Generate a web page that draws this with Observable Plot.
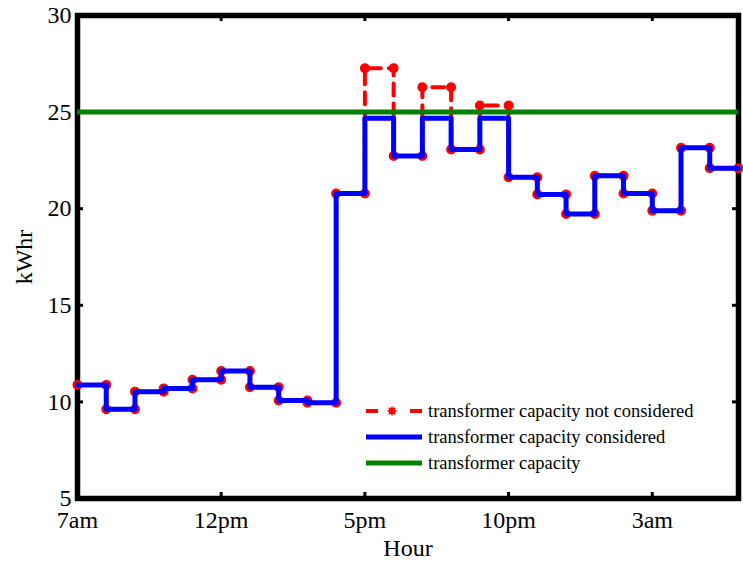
<!DOCTYPE html>
<html>
<head>
<meta charset="utf-8">
<script src="https://cdn.jsdelivr.net/npm/d3@7"></script>
<script src="https://cdn.jsdelivr.net/npm/@observablehq/plot@0.6"></script>
<style>
  html, body { margin: 0; padding: 0; background: #fff; }
  #wrap { position: relative; width: 743px; height: 562px; font-family: "Liberation Serif", "DejaVu Serif", serif; }
  #wrap svg text { font-family: "Liberation Serif", "DejaVu Serif", serif; }
  #legend { position: absolute; left: 366px; top: 398px; font-size: 18.5px; color: #000; }
  .row { display: flex; align-items: center; height: 26px; }
  .row svg { flex: none; }
  .row span { margin-left: 6px; white-space: nowrap; line-height: 26px; }
</style>
</head>
<body>
<div id="wrap"></div>
<script>
// ---- data ----
const hourTicks = [0, 5, 10, 15, 20];
const hourLabels = ["7am", "12pm", "5pm", "10pm", "3am"];
const yTicks = [5, 10, 15, 20, 25, 30];
const considered = [10.88, 9.62, 10.53, 10.7, 11.15, 11.6, 10.76, 10.07, 9.96, 20.79,
  24.68, 22.73, 24.68, 23.06, 24.68, 21.63, 20.74, 19.73, 21.7, 20.79, 19.9, 23.15, 22.1];
const notConsidered = [10.88, 9.62, 10.53, 10.7, 11.15, 11.6, 10.76, 10.07, 9.96, 20.79,
  27.27, 22.73, 26.29, 23.06, 25.34, 21.63, 20.74, 19.73, 21.7, 20.79, 19.9, 23.15, 22.1];
const capacity = 25;
const seriesNames = ["transformer capacity not considered", "transformer capacity considered", "transformer capacity"];
const seriesColors = ["#ff0000", "#0000ff", "#008000"];

// step points: each hourly value spans [i, i+1]
const steps = vals => vals.flatMap((v, i) => [{x: i, y: v}, {x: i + 1, y: v}]);
const redPts = steps(notConsidered);
const bluePts = steps(considered);
const nHours = considered.length;

const W = 743, H = 562;
const mL = 77, mR = 5, mT = 15, mB = 64;
const innerW = W - mL - mR, innerH = H - mT - mB;
const tickLen = 6;
const serif = "'Liberation Serif', 'DejaVu Serif', serif";

const plot = Plot.plot({
  width: W, height: H,
  marginLeft: mL, marginRight: mR, marginTop: mT, marginBottom: mB,
  style: {fontFamily: serif, fontSize: "24px", background: "#fff", color: "#000", overflow: "visible"},
  x: {domain: [0, nHours], axis: null},
  y: {domain: [5, 30], axis: null},
  marks: [
    Plot.frame({stroke: "#000", strokeWidth: 5.5}),
    // inward ticks (bottom, top, left, right)
    Plot.tickX(hourTicks, {x: d => d, insetTop: innerH - tickLen, stroke: "#000", strokeWidth: 3}),
    Plot.tickX(hourTicks, {x: d => d, insetBottom: innerH - tickLen, stroke: "#000", strokeWidth: 3}),
    Plot.tickY(yTicks, {y: d => d, insetRight: innerW - tickLen, stroke: "#000", strokeWidth: 3}),
    Plot.tickY(yTicks, {y: d => d, insetLeft: innerW - tickLen, stroke: "#000", strokeWidth: 3}),
    Plot.axisX(hourTicks, {anchor: "bottom", tickSize: 0, tickPadding: 12, fontSize: 24, label: null,
      tickFormat: d => hourLabels[hourTicks.indexOf(d)]}),
    Plot.axisY(yTicks, {anchor: "left", tickSize: 0, tickPadding: 6, fontSize: 24, label: null}),
    // series
    Plot.line(redPts, {x: "x", y: "y", stroke: seriesColors[0], strokeWidth: 4, strokeDasharray: "12,8"}),
    Plot.dot(redPts, {x: "x", y: "y", r: 4, fill: seriesColors[0], stroke: seriesColors[0], strokeWidth: 2}),
    Plot.line(bluePts, {x: "x", y: "y", stroke: seriesColors[1], strokeWidth: 5}),
    Plot.ruleY([capacity], {stroke: seriesColors[2], strokeWidth: 5}),
    // axis titles
    Plot.text(["Hour"], {frameAnchor: "bottom", dy: 50, fontSize: 24, textAnchor: "middle", lineAnchor: "middle", fill: "#000"}),
    Plot.text(["kWhr"], {frameAnchor: "left", dx: -53, rotate: -90, fontSize: 24, textAnchor: "middle", lineAnchor: "middle", fill: "#000"})
  ]
});

const wrap = document.getElementById("wrap");
wrap.appendChild(plot);

// legend
const legend = document.createElement("div");
legend.id = "legend";
const swatches = [
  `<svg width="56" height="26"><line x1="0" x2="12" y1="13" y2="13" stroke="${seriesColors[0]}" stroke-width="4"/>
     <line x1="44" x2="56" y1="13" y2="13" stroke="${seriesColors[0]}" stroke-width="4"/>
     <circle cx="26" cy="13" r="3" fill="${seriesColors[0]}"/>
     <g stroke="${seriesColors[0]}" stroke-width="1.6">
       <line x1="26" y1="8.5" x2="26" y2="17.5"/><line x1="21.5" y1="13" x2="30.5" y2="13"/>
       <line x1="22.8" y1="9.8" x2="29.2" y2="16.2"/><line x1="22.8" y1="16.2" x2="29.2" y2="9.8"/>
     </g></svg>`,
  `<svg width="56" height="26"><line x1="0" x2="56" y1="13" y2="13" stroke="${seriesColors[1]}" stroke-width="5"/></svg>`,
  `<svg width="56" height="26"><line x1="0" x2="56" y1="13" y2="13" stroke="${seriesColors[2]}" stroke-width="5"/></svg>`
];
seriesNames.forEach((name, i) => {
  const row = document.createElement("div");
  row.className = "row";
  row.innerHTML = swatches[i] + `<span>${name}</span>`;
  legend.appendChild(row);
});
wrap.appendChild(legend);
</script>
</body>
</html>
